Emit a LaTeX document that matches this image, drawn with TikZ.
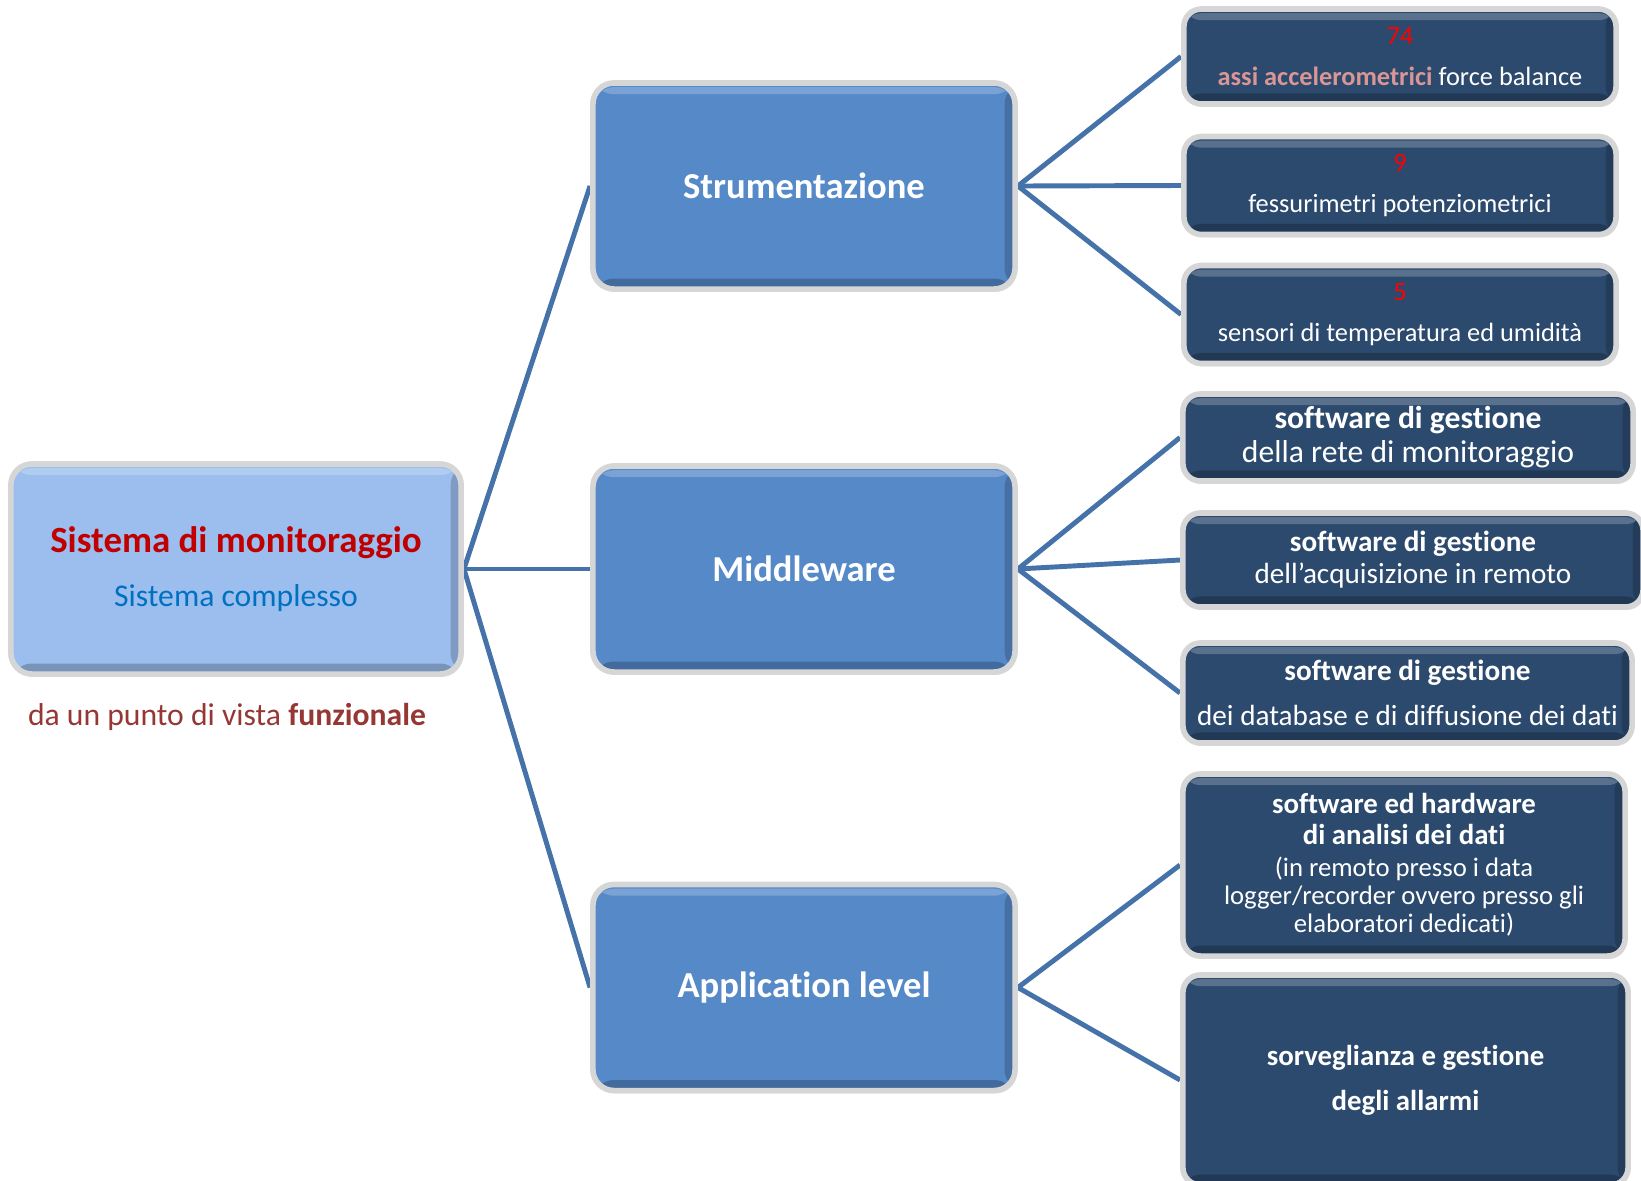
\documentclass[tikz,border=0pt]{standalone}
\usepackage{fontspec}
\setmainfont[Ligatures=NoCommon]{Carlito}
\usetikzlibrary{shadows,backgrounds}

\definecolor{lightbox}{HTML}{9BBEEE}
\definecolor{midbox}{HTML}{5689C8}
\definecolor{darkbox}{HTML}{2C4A6E}
\definecolor{linkblue}{HTML}{4672AA}
\definecolor{titlered}{HTML}{C00000}
\definecolor{subblue}{HTML}{0070C0}
\definecolor{capred}{HTML}{953735}
\definecolor{pinktext}{HTML}{D99694}

\tikzset{
  bevel/.style={rounded corners=#1, draw=black!16, line width=1.6pt,
    drop shadow={opacity=0.25, shadow xshift=0.5pt, shadow yshift=-0.8pt},
    path picture={
      \fill[white,opacity=.22] ([yshift=-1.2pt]path picture bounding box.north west)
        rectangle ([yshift=-3.2pt]path picture bounding box.north east);
      \fill[black,opacity=.22] (path picture bounding box.south west)
        rectangle ([yshift=3pt]path picture bounding box.south east);
      \fill[black,opacity=.18] ([xshift=-3pt]path picture bounding box.north east)
        rectangle (path picture bounding box.south east);
    }},
  sysbox/.style={bevel=6pt, fill=lightbox, minimum width=4.5cm, minimum height=2.1cm,
    align=center, font=\fontsize{9}{11}\selectfont},
  levelbox/.style={bevel=6pt, fill=midbox, minimum width=4.22cm, minimum height=2.06cm,
    text=white, font=\fontsize{10.4}{12}\selectfont\bfseries},
  itembox/.style={bevel=5pt, fill=darkbox, text=white, align=center, inner sep=0pt},
  link/.style={linkblue, line width=1.4pt}
}

\begin{document}
\begin{tikzpicture}[x=0.01cm,y=-0.01cm]
  \path[use as bounding box, clip] (0,0) rectangle (1641,1181);

  \node[sysbox] (sys) at (236,569)
    {{\fontsize{10.5}{12}\selectfont\bfseries\color{titlered}Sistema di monitoraggio}\\[4.4pt]
     {\color{subblue}Sistema complesso}};
  \node[font=\fontsize{9}{11}\selectfont, text=capred] (view) at (227,717)
    {da un punto di vista \textbf{funzionale}};

  \node[levelbox] (strum) at (804,186) {Strumentazione};
  \node[levelbox] (midw) at (804,569) {Middleware};
  \node[levelbox] (app) at (804,987.5) {Application level};

  \node[itembox, minimum width=4.32cm, minimum height=0.95cm, font=\fontsize{7.5}{9}\selectfont]
    (acc) at (1400,56.5) {{\color{red}74}\\[2.7pt]{\bfseries\color{pinktext}assi accelerometrici} force balance};
  \node[itembox, minimum width=4.32cm, minimum height=0.98cm, font=\fontsize{7.5}{9}\selectfont]
    (fess) at (1400,185.5) {{\color{red}9}\\[2.7pt]fessurimetri potenziometrici};
  \node[itembox, minimum width=4.32cm, minimum height=0.98cm, font=\fontsize{7.5}{9}\selectfont]
    (temp) at (1400,314.5) {{\color{red}5}\\[2.7pt]sensori di temperatura ed umidità};

  \node[itembox, minimum width=4.5cm, minimum height=0.87cm, font=\fontsize{9}{9.7}\selectfont]
    (rete) at (1408,437.5) {\textbf{software di gestione}\\della rete di monitoraggio};
  \node[itembox, minimum width=4.6cm, minimum height=0.94cm, font=\fontsize{8.3}{9.1}\selectfont]
    (acq) at (1413,560) {\textbf{software di gestione}\\dell’acquisizione in remoto};
  \node[itembox, minimum width=4.49cm, minimum height=1cm, font=\fontsize{8.3}{9.1}\selectfont]
    (dbase) at (1407.5,693) {\textbf{software di gestione}\\[3.7pt]dei database e di diffusione dei dati};

  \node[itembox, minimum width=4.42cm, minimum height=1.82cm, font=\fontsize{7.6}{8}\selectfont]
    (anal) at (1404,865) {{\fontsize{8.2}{8.8}\selectfont\bfseries software ed hardware}\\[0.8pt]
      {\fontsize{8.2}{8.8}\selectfont\bfseries di analisi dei dati}\\[1pt]
      (in remoto presso i data\\logger/recorder ovvero presso gli\\elaboratori dedicati)};
  \node[itembox, minimum width=4.45cm, minimum height=2.1cm, font=\fontsize{8.2}{9}\selectfont\bfseries]
    (allarmi) at (1405.5,1080) {sorveglianza e gestione\\[3.8pt]degli allarmi};

  \begin{scope}[on background layer]
    \draw[link] (sys.east) -- (strum.west);
    \draw[link] (sys.east) -- (midw.west);
    \draw[link] (sys.east) -- (app.west);
    \draw[link] (strum.east) -- (acc.west);
    \draw[link] (strum.east) -- (fess.west);
    \draw[link] (strum.east) -- (temp.west);
    \draw[link] (midw.east) -- (rete.west);
    \draw[link] (midw.east) -- (acq.west);
    \draw[link] (midw.east) -- (dbase.west);
    \draw[link] (app.east) -- (anal.west);
    \draw[link] (app.east) -- (allarmi.west);
  \end{scope}
\end{tikzpicture}
\end{document}
